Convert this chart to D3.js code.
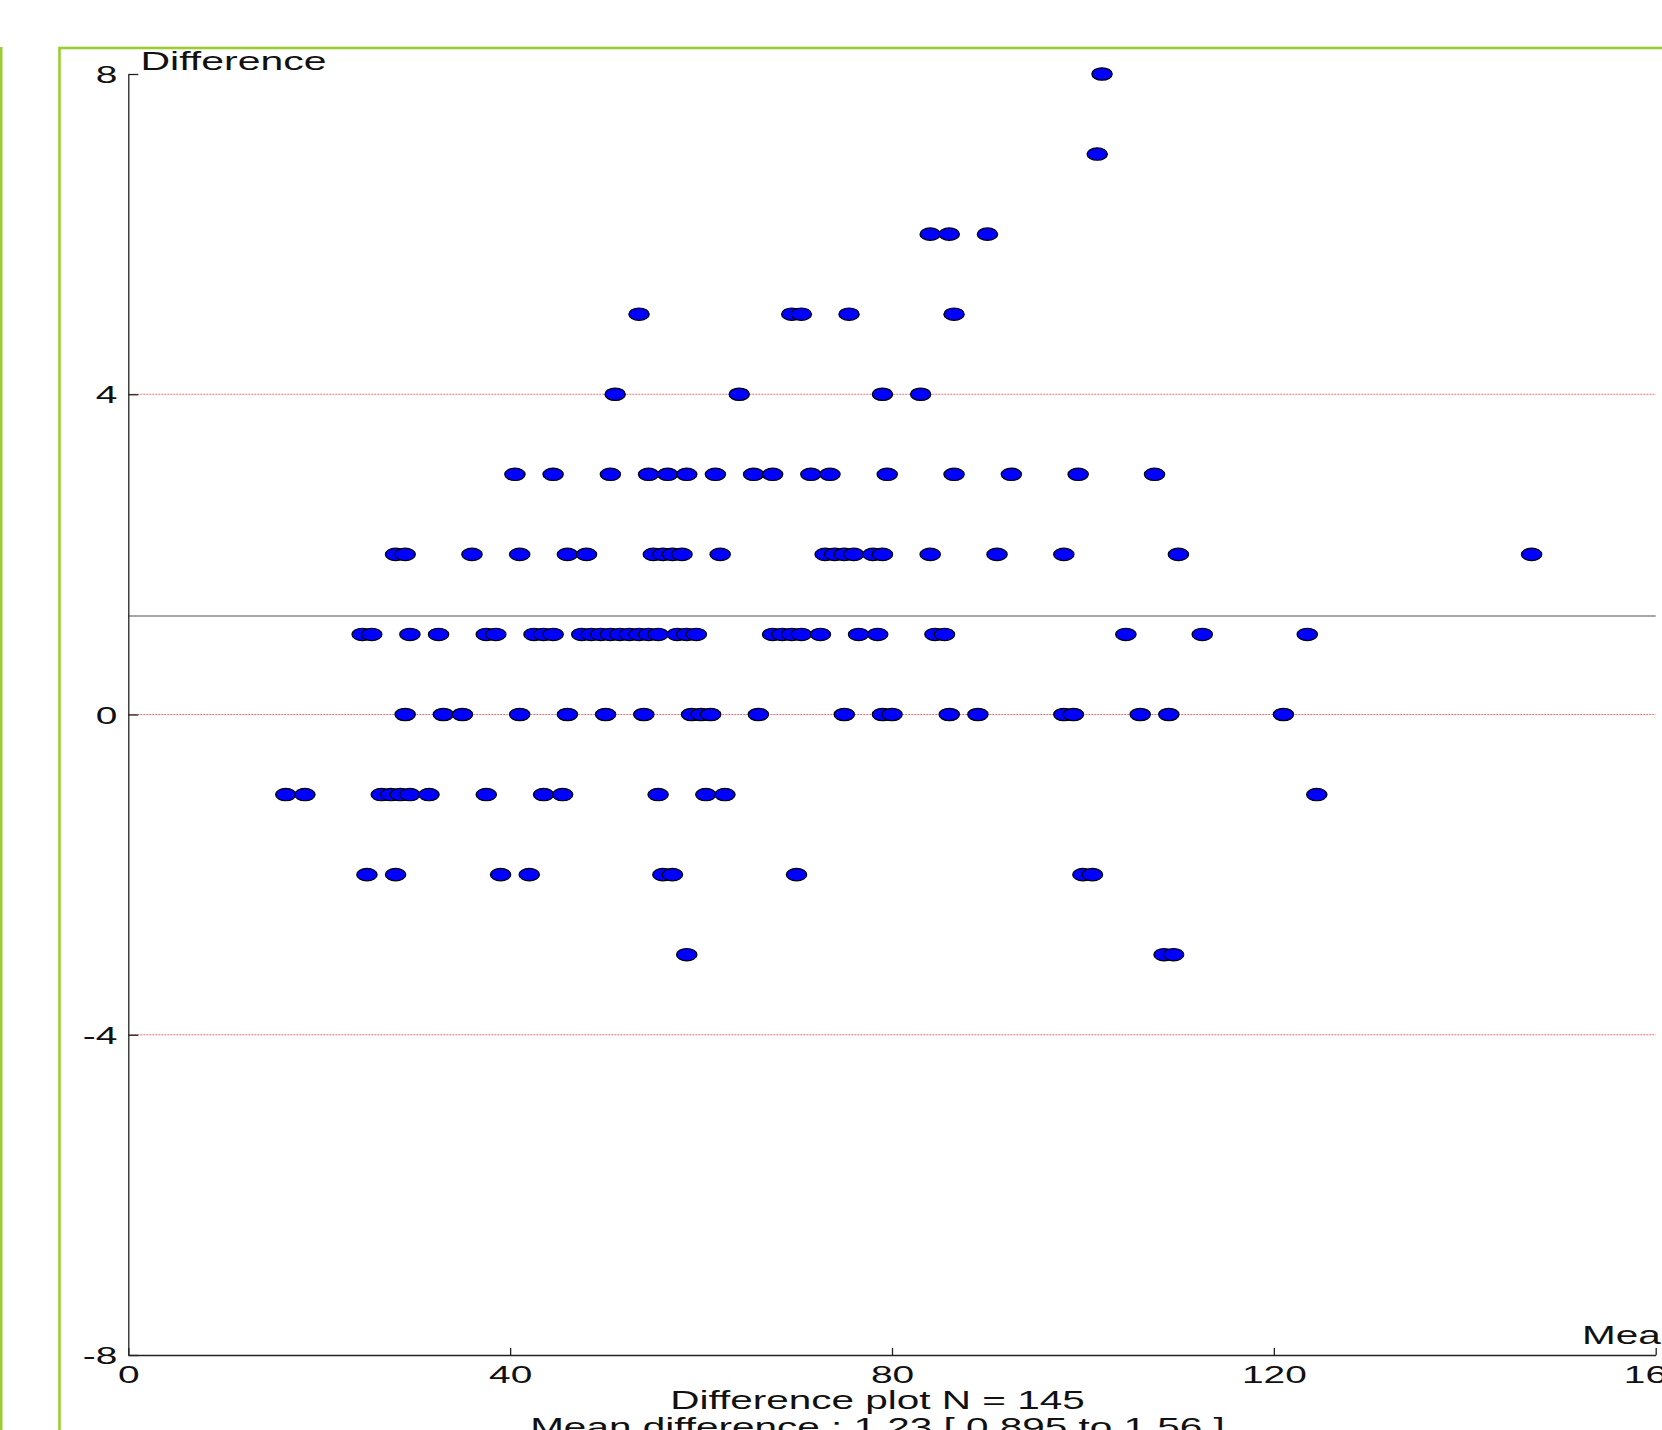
<!DOCTYPE html>
<html><head><meta charset="utf-8">
<script src="https://cdn.jsdelivr.net/npm/d3@7"></script>
<style>html,body{margin:0;padding:0;background:#fff;overflow:hidden}svg{display:block}</style>
</head><body>
<script>
// ---- data ----
const xTicks = [0, 40, 80, 120, 160];
const yTicks = [-8, -4, 0, 4, 8];
const limitLines = [4, 0, -4];
const meanDifference = 1.23;
const sampleSize = 145;
const ciLow = 0.895, ciHigh = 1.56;

// mean of the two measurements, grouped by their difference
const meansDiff8  = [102];
const meansDiff7  = [101.5];
const meansDiff6  = [84, 86, 90];
const meansDiff5  = [53.5, 69.5, 70.5, 75.5, 86.5];
const meansDiff4  = [51, 64, 79, 83];
const meansDiff3  = [40.5, 44.5, 50.5, 54.5, 56.5, 58.5, 61.5, 65.5, 67.5, 71.5, 73.5, 79.5, 86.5, 92.5, 99.5, 107.5];
const meansDiff2  = [28, 29, 36, 41, 46, 48, 55, 56, 57, 58, 62, 73, 74, 75, 76, 78, 79, 84, 91, 98, 110, 147];
const meansDiff1  = [24.5, 25.5, 29.5, 32.5, 37.5, 38.5, 42.5, 43.5, 44.5, 47.5, 48.5, 49.5, 50.5, 51.5, 52.5, 53.5, 54.5, 55.5, 57.5, 58.5, 59.5, 67.5, 68.5, 69.5, 70.5, 72.5, 76.5, 78.5, 84.5, 85.5, 104.5, 112.5, 123.5];
const meansDiff0  = [29, 33, 35, 41, 46, 50, 54, 59, 60, 61, 66, 75, 79, 80, 86, 89, 98, 99, 106, 109, 121];
const meansDiffM1 = [16.5, 18.5, 26.5, 27.5, 28.5, 29.5, 31.5, 37.5, 43.5, 45.5, 55.5, 60.5, 62.5, 124.5];
const meansDiffM2 = [25, 28, 39, 42, 56, 57, 70, 100, 101];
const meansDiffM3 = [58.5, 108.5, 109.5];

const groups = [
  [8, meansDiff8], [7, meansDiff7], [6, meansDiff6], [5, meansDiff5], [4, meansDiff4],
  [3, meansDiff3], [2, meansDiff2], [1, meansDiff1], [0, meansDiff0],
  [-1, meansDiffM1], [-2, meansDiffM2], [-3, meansDiffM3]
];
const points = [];
groups.forEach(([d, arr]) => arr.forEach(m => points.push({mean: m, diff: d})));
points.sort((a, b) => a.mean - b.mean);

// ---- drawing ----
const W = 1662, H = 1430;
const SX = 1.62;               // horizontal stretch of the original raster
const FONT = "'Liberation Sans', Arial, Helvetica, sans-serif";

const svg = d3.select('body').append('svg').attr('width', W).attr('height', H)
  .style('font-family', FONT);
svg.append('rect').attr('width', W).attr('height', H).attr('fill', '#fff');

// green frames
svg.append('rect').attr('x', 59.5).attr('y', 48).attr('width', 1700).attr('height', 1500)
  .attr('fill', 'none').attr('stroke', '#9acd32').attr('stroke-width', 2.6);
svg.append('line').attr('x1', 1.2).attr('x2', 1.2).attr('y1', 47).attr('y2', H)
  .attr('stroke', '#9acd32').attr('stroke-width', 2.6);

const x = d3.scaleLinear().domain([0, 160]).range([128.3, 1655.7]);
const y = d3.scaleLinear().domain([-8, 8]).range([1355, 74]);

// reference lines
svg.append('g').selectAll('line').data(limitLines).join('line')
  .attr('x1', x(0)).attr('x2', x(160))
  .attr('y1', d => y(d)).attr('y2', d => y(d))
  .attr('stroke', '#f07070').attr('stroke-width', 1).attr('stroke-dasharray', '2,1');
svg.append('line').attr('x1', x(0)).attr('x2', x(160))
  .attr('y1', y(meanDifference)).attr('y2', y(meanDifference))
  .attr('stroke', '#8a8a8a').attr('stroke-width', 1.4);

function styleAxis(g) {
  g.attr('font-family', FONT).attr('font-size', 24);
  g.selectAll('path,line').attr('stroke', '#222').attr('stroke-width', 1.3);
  g.selectAll('text').attr('fill', '#111');
}
const plainFormat = d => String(d);

// y axis
const gy = svg.append('g').attr('transform', `translate(${x(0)},0)`)
  .call(d3.axisLeft(y).tickValues(yTicks).tickFormat(plainFormat)
    .tickSize(-10).tickSizeOuter(0).tickPadding(11));
styleAxis(gy);
gy.selectAll('text').each(function () {
  const t = d3.select(this); const tx = +t.attr('x');
  t.attr('x', 0).attr('dy', '0.36em').attr('transform', `translate(${tx},0) scale(${SX},1)`);
});

// x axis
const gx = svg.append('g').attr('transform', `translate(0,${y(-8)})`)
  .call(d3.axisBottom(x).tickValues(xTicks).tickFormat(plainFormat)
    .tickSize(-7).tickSizeOuter(0).tickPadding(11));
styleAxis(gx);
gx.selectAll('text').attr('transform', `scale(${SX},1)`);

// points
svg.append('g').selectAll('ellipse').data(points).join('ellipse')
  .attr('cx', d => x(d.mean)).attr('cy', d => y(d.diff))
  .attr('rx', 10.2).attr('ry', 6.2)
  .attr('fill', '#0000ff').attr('stroke', '#000').attr('stroke-width', 1.2);

// texts
function stretched(xp, yp, str, size, anchor) {
  svg.append('text').attr('transform', `translate(${xp},${yp}) scale(${SX},1)`)
    .attr('text-anchor', anchor).attr('font-size', size).attr('fill', '#111').text(str);
}
stretched(140.5, 69.5, 'Difference', 25.3, 'start');
stretched(1582, 1344, 'Mean', 25, 'start');
stretched(877.5, 1409, `Difference plot N = ${sampleSize}`, 25, 'middle');
stretched(877.5, 1436, `Mean difference : ${meanDifference} [ ${ciLow} to ${ciHigh} ]`, 25, 'middle');
</script>
</body></html>
